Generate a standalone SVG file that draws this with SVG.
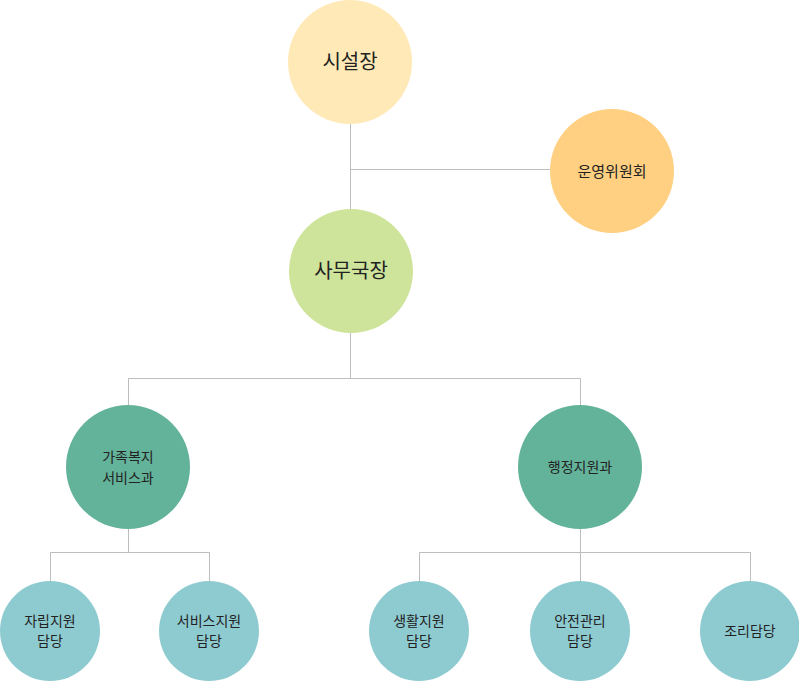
<svg xmlns="http://www.w3.org/2000/svg" width="799" height="681" viewBox="0 0 799 681">
<style>
text{font-family:"Noto Sans CJK KR","Noto Sans",sans-serif;fill:#222;text-anchor:middle}
.l{font-size:20px}.m{font-size:15px}.s{font-size:14px}
#connectors path{stroke:#bdbdbd;stroke-width:1;fill:none}
</style>
<rect width="799" height="681" fill="#fff"/>
<g id="connectors">
<path d="M350.5 124V209M350.5 169.5H550"/>
<path d="M350.5 333V378.5H128.5V405M350.5 378.5H580.5V405"/>
<path d="M128.5 529V552.5H50.5V581M128.5 552.5H209.5V581"/>
<path d="M580.5 529V581M419.5 581V552.5H750.5V581"/>
</g>
<g id="n1"><circle cx="350" cy="62" r="62" fill="#FFE9B6"/><text class="l" x="350" y="69">시설장</text></g>
<g id="n2"><circle cx="612" cy="171" r="62" fill="#FFD081"/><text class="m" x="612" y="177">운영위원회</text></g>
<g id="n3"><circle cx="351" cy="271" r="62" fill="#CEE49A"/><text class="l" x="351" y="278">사무국장</text></g>
<g id="n4"><circle cx="128" cy="467" r="62" fill="#62B39A"/><text class="s" x="128" y="462">가족복지</text><text class="s" x="128" y="483">서비스과</text></g>
<g id="n5"><circle cx="580" cy="467" r="62" fill="#62B39A"/><text class="s" x="580" y="472">행정지원과</text></g>
<g id="n6"><circle cx="50" cy="631" r="50" fill="#8ECBD1"/><text class="s" x="50" y="626">자립지원</text><text class="s" x="50" y="646">담당</text></g>
<g id="n7"><circle cx="209" cy="631" r="50" fill="#8ECBD1"/><text class="s" x="209" y="626">서비스지원</text><text class="s" x="209" y="646">담당</text></g>
<g id="n8"><circle cx="419" cy="631" r="50" fill="#8ECBD1"/><text class="s" x="419" y="626">생활지원</text><text class="s" x="419" y="646">담당</text></g>
<g id="n9"><circle cx="580" cy="631" r="50" fill="#8ECBD1"/><text class="s" x="580" y="626">안전관리</text><text class="s" x="580" y="646">담당</text></g>
<g id="n10"><circle cx="750" cy="631" r="50" fill="#8ECBD1"/><text class="s" x="750" y="636">조리담당</text></g>
</svg>
